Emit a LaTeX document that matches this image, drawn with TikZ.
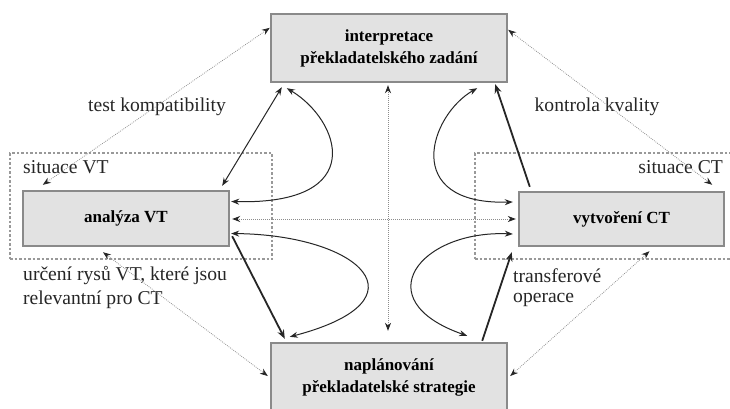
\documentclass[tikz,border=0pt]{standalone}
\usepackage{fontspec}
\setmainfont{Liberation Serif}
\usetikzlibrary{arrows.meta,calc}
\definecolor{boxfill}{HTML}{E2E2E2}
\definecolor{boxborder}{HTML}{8A8A8A}
\definecolor{labelcol}{HTML}{262626}
\begin{document}
\begin{tikzpicture}[x=1pt,y=-1pt,
  box/.style={draw=boxborder, line width=2.4pt, fill=boxfill, align=center, inner sep=0pt,
    font=\bfseries\fontsize{17}{22}\selectfont, text=black},
  lbl/.style={font=\fontsize{19.6}{24}\selectfont, text=labelcol, inner sep=0pt, align=left},
  sitbox/.style={draw=gray!80, line width=1.2pt, dash pattern=on 2.5pt off 2pt},
  dotarrow/.style={draw=gray!90, line width=0.75pt, dash pattern=on 0.8pt off 1.2pt, {Stealth[length=8pt,width=6pt,color=black!85]}-{Stealth[length=8pt,width=6pt,color=black!85]}},
  thin2/.style={draw=black!85, line width=1pt, {Stealth[length=8pt,width=6pt]}-{Stealth[length=8pt,width=6pt]}},
  thick1/.style={draw=black!85, line width=1.8pt, -{Stealth[length=9pt,width=7pt]}}
]
\clip (0,0) rectangle (730,408);
\fill[white] (0,0) rectangle (730,408);

% situation frames
\node[sitbox, minimum width=262pt, minimum height=106pt, inner sep=0pt] (sitvt) at (141,206) {};
\node[sitbox, minimum width=280pt, minimum height=106pt, inner sep=0pt] (sitct) at (615,206) {};

% boxes
\node[box, minimum width=236pt, minimum height=68pt] (top) at (389,48) {interpretace\\překladatelského zadání};
\node[box, minimum width=206pt, minimum height=55pt] (vt) at (126,218.5) {analýza VT};
\node[box, minimum width=205pt, minimum height=54pt] (ct) at (621.5,219) {vytvoření CT};
\node[box, minimum width=236pt, minimum height=68pt] (plan) at (389,377) {naplánování\\překladatelské strategie};

% labels
\node[lbl] (lkomp) at (157,107) {test kompatibility};
\node[lbl] (lkval) at (597,107) {kontrola kvality};
\node[lbl, anchor=west] (lsvt) at (23,167) {situace VT};
\node[lbl, anchor=east] (lsct) at (723,167) {situace CT};
\node[lbl, anchor=west] (lrys1) at (23,276) {určení rysů VT, které jsou};
\node[lbl, anchor=west] (lrys2) at (23,300) {relevantní pro CT};
\node[lbl, anchor=west] (ltr1) at (513,276) {transferové};
\node[lbl, anchor=west] (ltr2) at (513,300) {operace};

% dotted connectors
\draw[dotarrow] ($(top.north west)+(0,15)$) -- ($(vt.north west)+(21,-5)$);
\draw[dotarrow] ($(top.north east)+(0,17)$) -- ($(ct.north east)+(-13,-6)$);
\draw[dotarrow] ($(top.south)+(-1,2)$) -- ($(plan.north)+(-1,-11)$);
\draw[dotarrow] ($(vt.east)+(2,0.5)$) -- ($(ct.west)+(-2,0)$);
\draw[dotarrow] ($(vt.south)+(-23,5)$) -- ($(plan.west)+(-2,-1)$);
\draw[dotarrow] ($(ct.south)+(28,4)$) -- ($(plan.east)+(2,-1)$);

% solid connectors
\draw[thin2] ($(top.south west)+(12,4)$) -- ($(vt.north east)+(-8,-4)$);
\draw[thin2] ($(top.south west)+(17,5)$) .. controls (340,120) and (370,205) .. ($(vt.east)+(1,-17)$);
\draw[thick1] ($(vt.south east)+(2,-11)$) -- ($(plan.north west)+(15,-3)$);
\draw[thin2] ($(vt.east)+(1,15)$) .. controls (360,235) and (430,300) .. ($(plan.north west)+(20,-5)$);

\draw[thick1] ($(ct.north west)+(12,-4)$) -- ($(top.south east)+(-13,1)$);
\draw[thin2] ($(top.south east)+(-31,5)$) .. controls (430,115) and (400,205) .. ($(ct.west)+(-5,-17)$);
\draw[thick1] ($(plan.north east)+(-26,-1)$) -- ($(ct.south west)+(-6,5)$);
\draw[thin2] ($(ct.west)+(-5,15)$) .. controls (420,230) and (365,300) .. ($(plan.north east)+(-41,-6)$);
\end{tikzpicture}
\end{document}
